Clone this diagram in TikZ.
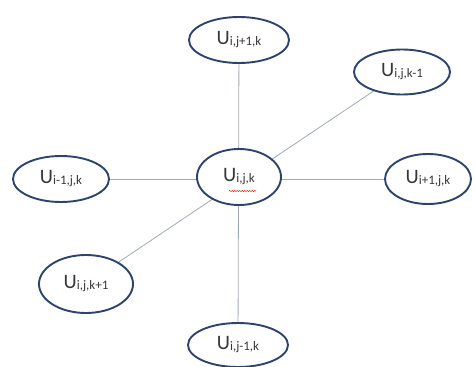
\documentclass[tikz,border=0pt]{standalone}
\usepackage{fontspec}
\setmainfont{Carlito}
\usetikzlibrary{shapes.geometric,backgrounds,decorations.pathmorphing}
\definecolor{ringblue}{RGB}{44,68,108}
\definecolor{txtgray}{RGB}{55,55,55}
\definecolor{linkgray}{RGB}{160,170,180}
\newcommand{\Ulab}[1]{{\fontsize{20.5}{22}\selectfont U}\raisebox{-1pt}{\fontsize{13}{14}\selectfont #1}}
\tikzset{
  cell/.style={ellipse, draw=ringblue, line width=1.9pt, fill=white, inner sep=0pt, text=txtgray},
  link/.style={draw=linkgray, line width=0.8pt}
}
\begin{document}
\begin{tikzpicture}[x=1pt,y=-1pt]
\useasboundingbox (0,0) rectangle (475,367);
\node[cell, minimum width=100pt, minimum height=46pt] (top) at (239,40) {\Ulab{i,j+1,k}};
\node[cell, minimum width=96pt, minimum height=45pt] (tr) at (402,72) {\Ulab{i,j,k-1}};
\node[cell, minimum width=96pt, minimum height=46pt] (left) at (61,179) {\Ulab{i-1,j,k}};
\node[cell, minimum width=84pt, minimum height=56pt] (ctr) at (239,177) {\Ulab{i,j,k}};
\node[cell, minimum width=86pt, minimum height=50pt] (right) at (428,179) {\Ulab{i+1,j,k}};
\node[cell, minimum width=94pt, minimum height=58pt] (bl) at (86,284) {\Ulab{i,j,k+1}};
\node[cell, minimum width=100pt, minimum height=44pt] (bot) at (238,345) {\Ulab{i,j-1,k}};
\coordinate (sqA) at (229,191);
\coordinate (sqB) at (256,191);
\draw[red!80!black, line width=0.4pt, decorate, decoration={snake, amplitude=0.6pt, segment length=2.5pt}] (sqA) -- (sqB);
\begin{pgfonlayer}{background}
\path[link] (top) -- (bot);
\path[link] (left) -- (right);
\path[link] (bl) -- (tr);
\end{pgfonlayer}
\end{tikzpicture}
\end{document}
